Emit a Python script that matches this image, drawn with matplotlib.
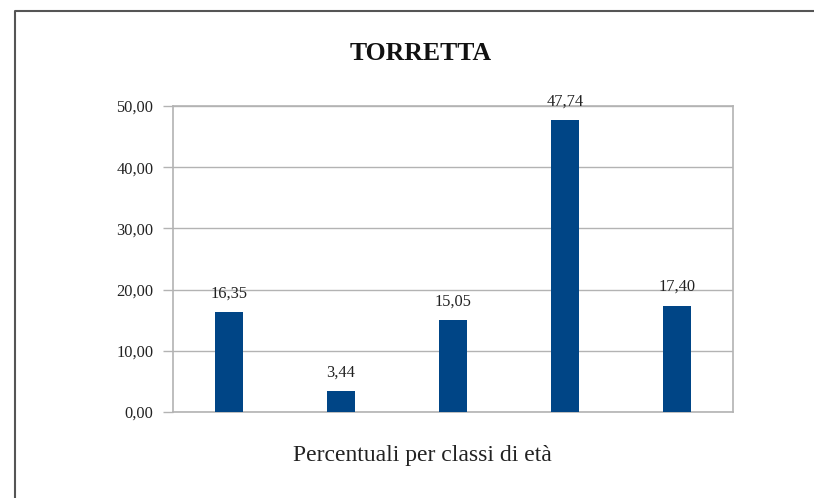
import matplotlib
matplotlib.use("Agg")
import matplotlib.pyplot as plt
from matplotlib.lines import Line2D
import numpy as np

plt.rcParams['font.family'] = ['Liberation Serif', 'DejaVu Serif']

# percentuali per classe di eta'
classi = ['1', '2', '3', '4', '5']
valori = [16.35, 3.44, 15.05, 47.74, 17.40]
yticks = [0, 10, 20, 30, 40, 50]

bar_color = '#004586'
grid_color = '#b3b3b3'


def virgola(v):
    return f"{v:.2f}".replace('.', ',')


W, H = 814, 498
fig = plt.figure(figsize=(W / 100, H / 100), dpi=100)
ax = fig.add_axes([172.7 / W, 1 - 412 / H, (733 - 172.7) / W, (412 - 106) / H])

x = np.arange(len(classi))
bars = ax.bar(x, valori, width=0.25, color=bar_color, zorder=3)

for xi, v in zip(x, valori):
    ax.annotate(virgola(v), (xi, v), xytext=(0, 7.5), textcoords='offset points',
                ha='center', va='bottom', fontsize=11.8, color='#222222', zorder=4)

ax.set_xlim(-0.5, len(classi) - 0.5)
ax.set_ylim(0, 50)
ax.set_yticks(yticks)
ax.set_yticklabels([virgola(t) for t in yticks], fontsize=11.8, color='#222222')
ax.set_xticks([])
ax.tick_params(axis='y', length=7.5, width=1, color=grid_color, pad=6.5)
ax.yaxis.grid(True, color=grid_color, linewidth=1, zorder=0)
for s in ax.spines.values():
    s.set_color(grid_color)
    s.set_linewidth(1.2)

fig.text(421 / W, 1 - 53 / H, 'TORRETTA', ha='center', va='center',
         fontsize=18.5, fontweight='bold', color='#111111')
fig.text(422 / W, 1 - 456 / H, 'Percentuali per classi di età', ha='center',
         va='center', fontsize=17, color='#222222')

# cornice esterna
bx, by = 14.5 / W, 1 - 11.5 / H
fig.add_artist(Line2D([bx, bx, 1], [0, by, by], transform=fig.transFigure,
                      color='#555555', linewidth=1.5))

fig.savefig('out.png', dpi=100)
